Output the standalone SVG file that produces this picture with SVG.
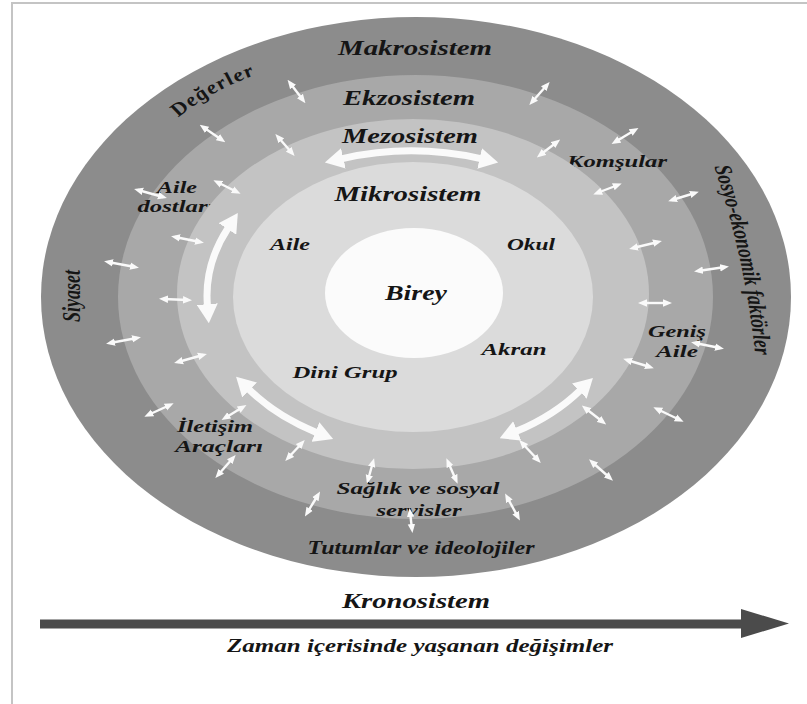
<svg xmlns="http://www.w3.org/2000/svg" width="807" height="704" viewBox="0 0 807 704">
<style>
.t{font-family:"Liberation Serif","Times New Roman",serif;font-weight:bold;font-style:italic;fill:#151515;text-anchor:middle}
.big{fill:none;stroke:#fafafa;stroke-width:7;marker-start:url(#bh);marker-end:url(#bh)}
.sa{stroke:#fafafa;stroke-width:2.4;marker-start:url(#sh);marker-end:url(#sh)}
</style>
<defs>
<marker id="bh" viewBox="0 0 19 21" refX="1" refY="10.5" markerWidth="19" markerHeight="21" markerUnits="userSpaceOnUse" orient="auto-start-reverse"><path d="M0,0 L19,10.5 L0,21 z" fill="#fafafa"/></marker>
<marker id="sh" viewBox="0 0 9 8" refX="5" refY="4" markerWidth="9" markerHeight="8" markerUnits="userSpaceOnUse" orient="auto-start-reverse"><path d="M0,0.3 L9,4 L0,7.7 z" fill="#fafafa"/></marker>
<path id="pDeg" d="M238.1 118 Q263.5 90 297.8 74"/>
<path id="pSos" d="M636.6 160 Q662 259 669.5 362"/>
</defs>
<rect width="807" height="704" fill="#ffffff"/>
<path d="M12 704 V3 H807" fill="none" stroke="#c4c4c4" stroke-width="2"/>

<g id="makrosistem">
<ellipse cx="416" cy="297" rx="375" ry="280" fill="#8c8c8c"/>
<text class="t" x="415" y="55" font-size="21" textLength="154" lengthAdjust="spacingAndGlyphs">Makrosistem</text>
<g transform="translate(-141.1,0) scale(1.34,1)"><text class="t" font-size="18" letter-spacing="1"><textPath href="#pDeg" startOffset="50%">Değerler</textPath></text></g>
<text class="t" font-size="18" transform="translate(80,296) scale(1.34,1) rotate(-90)">Siyaset</text>
<g transform="translate(-141.1,0) scale(1.34,1)"><text class="t" font-size="18"><textPath href="#pSos" startOffset="50%">Sosyo-ekonomik faktörler</textPath></text></g>
<text class="t" x="421" y="554" font-size="18" textLength="227" lengthAdjust="spacingAndGlyphs">Tutumlar ve ideolojiler</text>
</g>

<g id="ekzosistem">
<ellipse cx="415.5" cy="297" rx="297.5" ry="222" fill="#a8a8a8"/>
<text class="t" x="409" y="105" font-size="20" textLength="132" lengthAdjust="spacingAndGlyphs">Ekzosistem</text>
<text class="t" x="177" y="193" font-size="17" textLength="40" lengthAdjust="spacingAndGlyphs">Aile</text>
<text class="t" x="176" y="212" font-size="17" textLength="77" lengthAdjust="spacingAndGlyphs">dostları</text>
<text class="t" x="617" y="167" font-size="17" textLength="100" lengthAdjust="spacingAndGlyphs">Komşular</text>
<text class="t" x="677" y="337" font-size="17" textLength="58" lengthAdjust="spacingAndGlyphs">Geniş</text>
<text class="t" x="677" y="357" font-size="17" textLength="42" lengthAdjust="spacingAndGlyphs">Aile</text>
<text class="t" x="215" y="432" font-size="17" textLength="76" lengthAdjust="spacingAndGlyphs">İletişim</text>
<text class="t" x="219" y="452" font-size="17" textLength="88" lengthAdjust="spacingAndGlyphs">Araçları</text>
<text class="t" x="418" y="494" font-size="17" textLength="163" lengthAdjust="spacingAndGlyphs">Sağlık ve sosyal</text>
<text class="t" x="419" y="516" font-size="17" textLength="85" lengthAdjust="spacingAndGlyphs">servisler</text>
</g>

<g id="mezosistem">
<ellipse cx="413" cy="294" rx="236" ry="175" fill="#c3c3c3"/>
<text class="t" x="410" y="143" font-size="20" textLength="136" lengthAdjust="spacingAndGlyphs">Mezosistem</text>
</g>

<g id="mikrosistem">
<ellipse cx="413" cy="297" rx="180" ry="135" fill="#dbdbdb"/>
<text class="t" x="408" y="201" font-size="20" textLength="147" lengthAdjust="spacingAndGlyphs">Mikrosistem</text>
<text class="t" x="290" y="250" font-size="17" textLength="40" lengthAdjust="spacingAndGlyphs">Aile</text>
<text class="t" x="531" y="250" font-size="17" textLength="48" lengthAdjust="spacingAndGlyphs">Okul</text>
<text class="t" x="514" y="355" font-size="17" textLength="65" lengthAdjust="spacingAndGlyphs">Akran</text>
<text class="t" x="345" y="378" font-size="17" textLength="105" lengthAdjust="spacingAndGlyphs">Dini Grup</text>
</g>

<g id="birey">
<ellipse cx="414" cy="293" rx="89" ry="65" fill="#fbfbfb"/>
<text class="t" x="416" y="300" font-size="20" textLength="62" lengthAdjust="spacingAndGlyphs">Birey</text>
</g>

<g id="connectors">
<path class="big" d="M342.4 158.6 Q411 143 480.6 158.6"/>
<path class="big" d="M228 228.1 A208 155 0 0 0 207.4 305.2"/>
<path class="big" d="M248.9 389.3 A208 155 0 0 0 316.4 432.4"/>
<path class="big" d="M580 390.4 A208 155 0 0 1 516.3 431.3"/>
<line class="sa" x1="290" y1="83" x2="303" y2="100"/>
<line class="sa" x1="203" y1="127" x2="222" y2="140"/>
<line class="sa" x1="278" y1="137" x2="292" y2="153"/>
<line class="sa" x1="138" y1="190" x2="163" y2="197"/>
<line class="sa" x1="217" y1="182" x2="237" y2="192"/>
<line class="sa" x1="175" y1="237" x2="200" y2="242"/>
<line class="sa" x1="532" y1="102" x2="547" y2="85"/>
<line class="sa" x1="615" y1="142" x2="635" y2="130"/>
<line class="sa" x1="540" y1="155" x2="557" y2="142"/>
<line class="sa" x1="597" y1="193" x2="618" y2="185"/>
<line class="sa" x1="672" y1="200" x2="695" y2="193"/>
<line class="sa" x1="633" y1="248" x2="658" y2="242"/>
<line class="sa" x1="108" y1="262" x2="135" y2="267"/>
<line class="sa" x1="163" y1="299" x2="188" y2="300"/>
<line class="sa" x1="110" y1="343" x2="137" y2="338"/>
<line class="sa" x1="178" y1="362" x2="203" y2="355"/>
<line class="sa" x1="148" y1="415" x2="170" y2="405"/>
<line class="sa" x1="225" y1="418" x2="243" y2="407"/>
<line class="sa" x1="288" y1="458" x2="302" y2="443"/>
<line class="sa" x1="218" y1="475" x2="233" y2="458"/>
<line class="sa" x1="373" y1="462" x2="368" y2="480"/>
<line class="sa" x1="307" y1="513" x2="318" y2="495"/>
<line class="sa" x1="448" y1="462" x2="456" y2="480"/>
<line class="sa" x1="410" y1="512" x2="412" y2="529"/>
<line class="sa" x1="507" y1="497" x2="518" y2="517"/>
<line class="sa" x1="522" y1="443" x2="538" y2="460"/>
<line class="sa" x1="592" y1="462" x2="610" y2="478"/>
<line class="sa" x1="585" y1="408" x2="603" y2="422"/>
<line class="sa" x1="657" y1="409" x2="680" y2="420"/>
<line class="sa" x1="627" y1="360" x2="650" y2="367"/>
<line class="sa" x1="695" y1="343" x2="720" y2="348"/>
<line class="sa" x1="642" y1="303" x2="668" y2="303"/>
<line class="sa" x1="698" y1="271" x2="725" y2="267"/>
</g>

<g id="kronosistem">
<rect x="40" y="619.5" width="703" height="9" fill="#4b4b4b"/>
<polygon points="741,609 741,638 789,623.5" fill="#4b4b4b"/>
<text class="t" x="416" y="608" font-size="21" textLength="148" lengthAdjust="spacingAndGlyphs">Kronosistem</text>
<text class="t" x="420" y="652" font-size="18" textLength="386" lengthAdjust="spacingAndGlyphs">Zaman içerisinde yaşanan değişimler</text>
</g>
</svg>
